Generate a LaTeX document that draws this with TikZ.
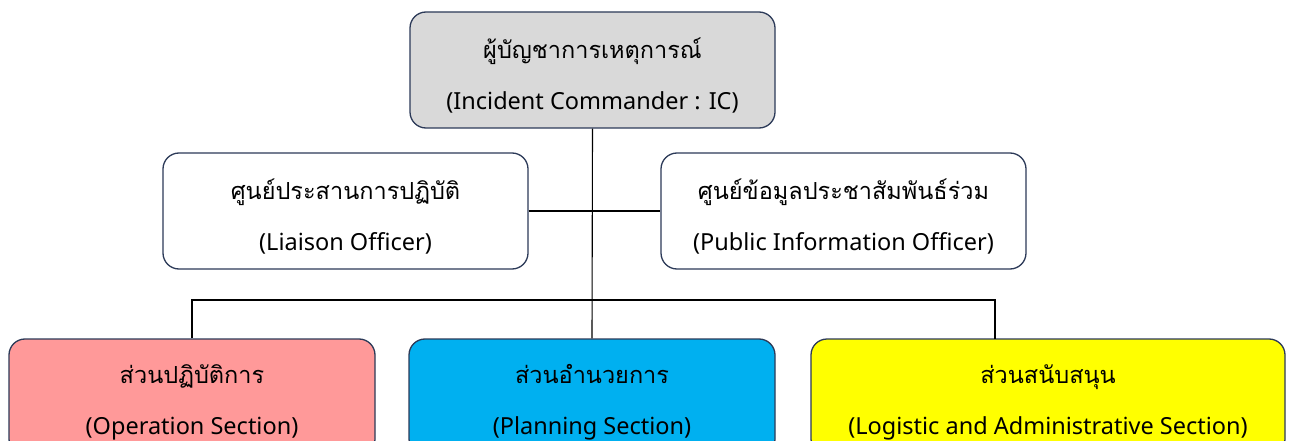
\documentclass[tikz,border=0pt]{standalone}
\usepackage{fontspec}
\setmainfont{Noto Sans}
\newfontfamily\thaifont[Script=Thai,Scale=1.0]{Loma}
\definecolor{edge}{RGB}{44,58,88}
\definecolor{icgray}{RGB}{217,217,217}
\definecolor{opred}{RGB}{255,153,153}
\definecolor{planblue}{RGB}{0,176,240}
\definecolor{logyellow}{RGB}{255,255,0}
\tikzset{
  unitbox/.style={draw=edge, line width=1.3pt, rounded corners=16pt, minimum height=116pt,
    inner sep=0pt},
  unittext/.style={align=center, inner sep=0pt, font=\fontsize{23.5}{51}\selectfont, text=black},
  link/.style={draw=black, line width=1.1pt},
}
\begin{document}
\begin{tikzpicture}[x=1pt,y=-1pt]
\useasboundingbox (0,0) rectangle (1291,441);
\clip (0,0) rectangle (1291,441);
\fill[white] (0,0) rectangle (1291,441);
\node[unitbox, fill=icgray, minimum width=365pt] (ic) at (592.5,70) {};
\node[unitbox, fill=white, minimum width=365pt] (li) at (345.5,211) {};
\node[unitbox, fill=white, minimum width=365pt] (pio) at (843.5,211) {};
\node[unitbox, fill=opred, minimum width=366pt] (ops) at (192,397) {};
\node[unitbox, fill=planblue, minimum width=366pt] (plan) at (592,397) {};
\node[unitbox, fill=logyellow, minimum width=474pt] (log) at (1048,397) {};
\node[unittext] (icT) at ([yshift=-6pt]ic.center)
  {{\thaifont ผู้บัญชาการเหตุการณ์}\\(Incident Commander : IC)};
\node[unittext] (liT) at ([yshift=-6pt]li.center)
  {{\thaifont ศูนย์ประสานการปฏิบัติ}\\(Liaison Officer)};
\node[unittext] (pioT) at ([yshift=-6pt]pio.center)
  {{\thaifont ศูนย์ข้อมูลประชาสัมพันธ์ร่วม}\\(Public Information Officer)};
\node[unittext] (opsT) at ([yshift=-5pt]ops.center)
  {{\thaifont ส่วนปฏิบัติการ}\\(Operation Section)};
\node[unittext] (planT) at ([yshift=-5pt]plan.center)
  {{\thaifont ส่วนอำนวยการ}\\(Planning Section)};
\node[unittext] (logT) at ([yshift=-5pt]log.center)
  {{\thaifont ส่วนสนับสนุน}\\(Logistic and Administrative Section)};
\coordinate (j) at (591,300);
\coordinate (logtop) at (995,339);
\draw[link] (ic.south) -- (plan.north);
\draw[link] (li.east) -- (pio.west);
\draw[link] (ops.north) |- (j) -| (logtop);
\end{tikzpicture}
\end{document}
